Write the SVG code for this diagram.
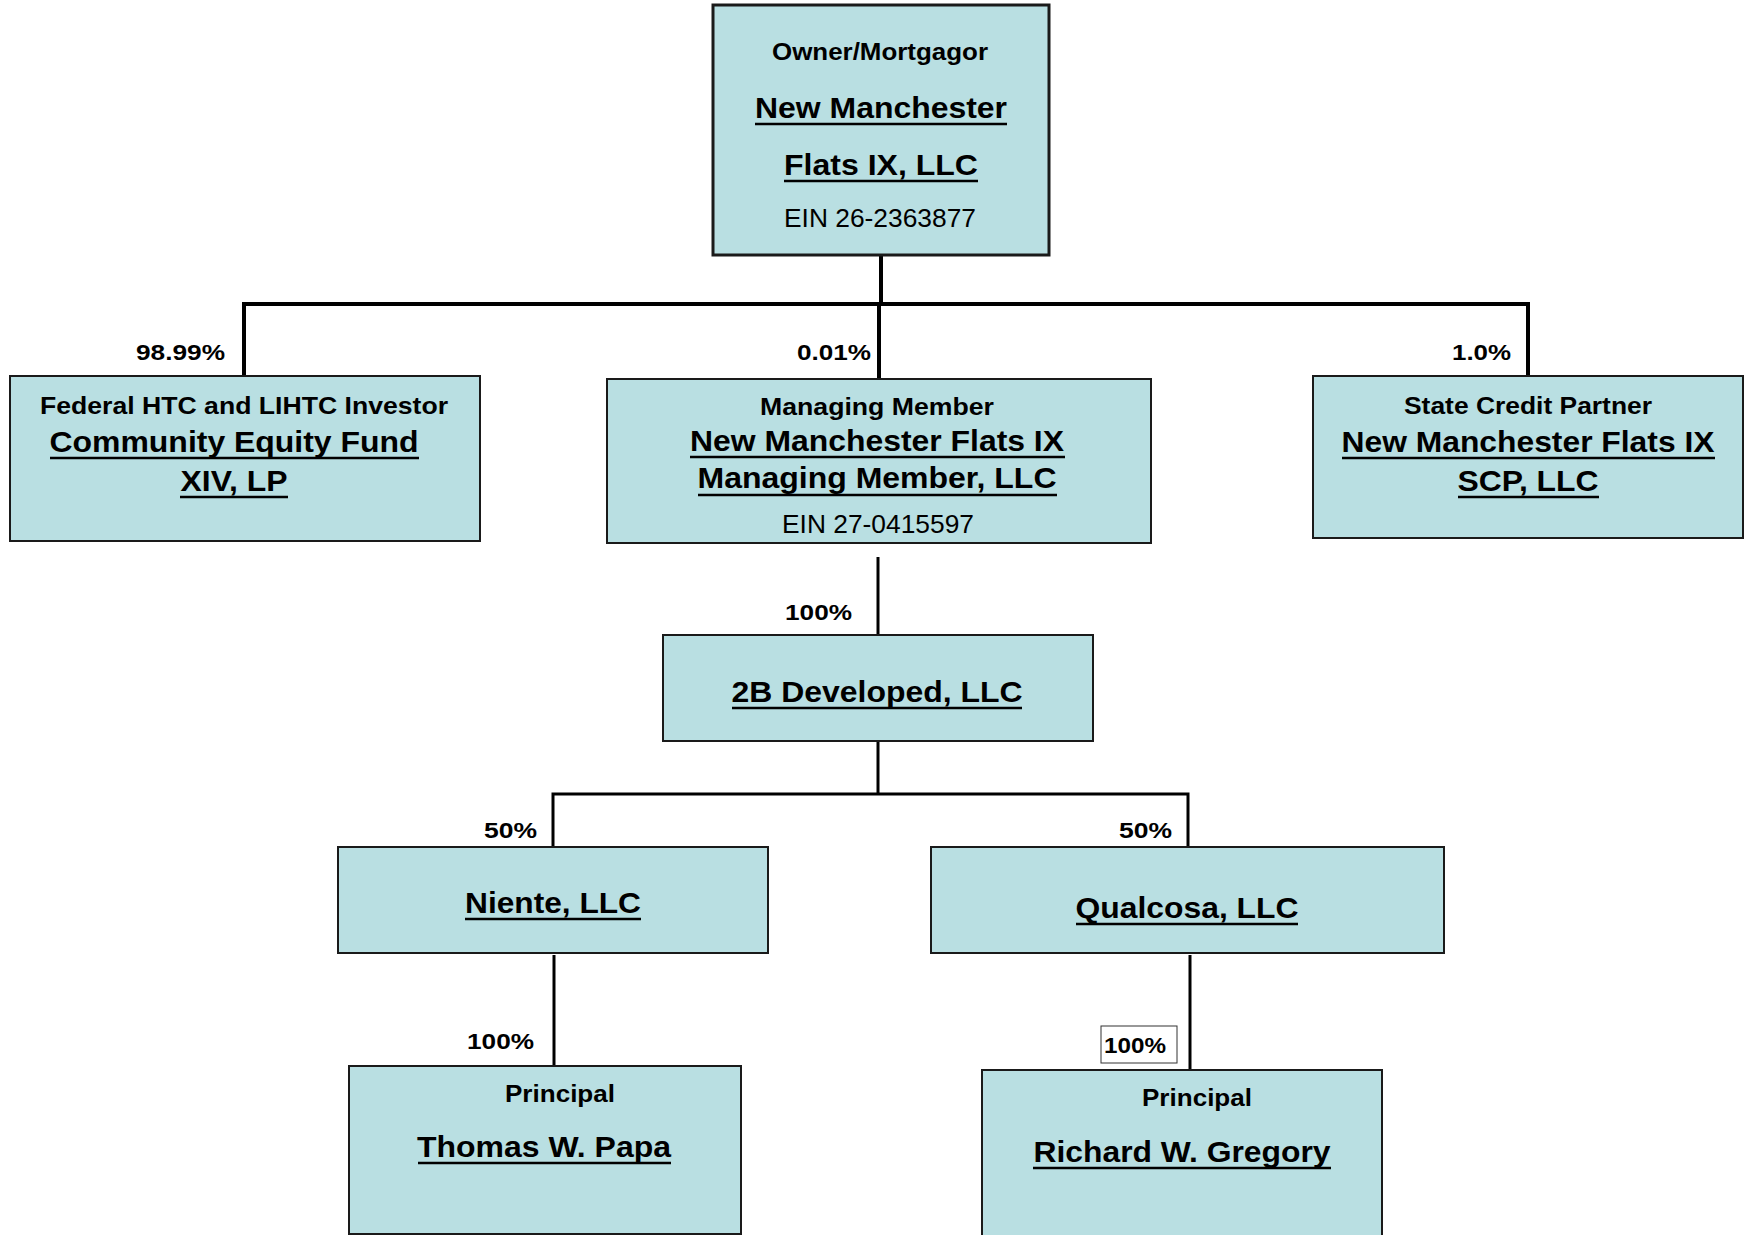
<svg xmlns="http://www.w3.org/2000/svg" width="1746" height="1235" viewBox="0 0 1746 1235">
<style>
  .box { fill: #B9DFE2; stroke: #1a1a1a; stroke-width: 2; }
  .t { font-family: "Liberation Sans", Arial, sans-serif; fill: #000; text-anchor: middle; }
  .lbl { font-size: 24px; font-weight: bold; }
  .name { font-size: 30px; font-weight: bold; }
  .ein { font-size: 26px; }
  .pct { font-family: "Liberation Sans", Arial, sans-serif; font-size: 22px; font-weight: bold; text-anchor: end; fill: #000; }
  .ul { stroke: #000; stroke-width: 2.5; }
  .conn { stroke: #000; stroke-width: 4; fill: none; }
  .conn2 { stroke: #000; stroke-width: 3; fill: none; }
</style>
<rect width="1746" height="1235" fill="#fff"/>

<g id="connectors">
  <line class="conn" x1="881" y1="255" x2="881" y2="304"/>
  <polyline class="conn" points="244,376 244,304 1528,304 1528,376"/>
  <line class="conn" x1="879" y1="304" x2="879" y2="379"/>
  <line class="conn2" x1="878" y1="557" x2="878" y2="635"/>
  <line class="conn2" x1="878" y1="741" x2="878" y2="794"/>
  <polyline class="conn2" points="553,847 553,794 1188,794 1188,847"/>
  <line class="conn2" x1="554" y1="955" x2="554" y2="1066"/>
  <line class="conn2" x1="1190" y1="955" x2="1190" y2="1070"/>
</g>

<g id="labels">
  <text class="pct" x="225" y="360" textLength="89" lengthAdjust="spacingAndGlyphs">98.99%</text>
  <text class="pct" x="871" y="360" textLength="74" lengthAdjust="spacingAndGlyphs">0.01%</text>
  <text class="pct" x="1511" y="360" textLength="59" lengthAdjust="spacingAndGlyphs">1.0%</text>
  <text class="pct" x="852" y="620" textLength="67" lengthAdjust="spacingAndGlyphs">100%</text>
  <text class="pct" x="537" y="838" textLength="53" lengthAdjust="spacingAndGlyphs">50%</text>
  <text class="pct" x="1172" y="838" textLength="53" lengthAdjust="spacingAndGlyphs">50%</text>
  <text class="pct" x="534" y="1049" textLength="67" lengthAdjust="spacingAndGlyphs">100%</text>
  <g id="pct-boxed">
    <rect x="1101" y="1026" width="76" height="37" fill="#fff" stroke="#333" stroke-width="1"/>
    <text class="pct" x="1166" y="1053" textLength="62" lengthAdjust="spacingAndGlyphs">100%</text>
  </g>
</g>

<g id="owner">
  <rect class="box" x="713" y="5" width="336" height="250" style="stroke-width:3"/>
  <text class="t lbl" x="880" y="60" textLength="216" lengthAdjust="spacingAndGlyphs">Owner/Mortgagor</text>
  <text class="t name" x="881" y="118" textLength="252" lengthAdjust="spacingAndGlyphs">New Manchester</text>
  <line class="ul" x1="755" y1="124" x2="1007" y2="124"/>
  <text class="t name" x="881" y="175" textLength="194" lengthAdjust="spacingAndGlyphs">Flats IX, LLC</text>
  <line class="ul" x1="784" y1="181" x2="978" y2="181"/>
  <text class="t ein" x="880" y="227" textLength="192" lengthAdjust="spacingAndGlyphs">EIN 26-2363877</text>
</g>

<g id="federal">
  <rect class="box" x="10" y="376" width="470" height="165"/>
  <text class="t lbl" x="244" y="414" textLength="408" lengthAdjust="spacingAndGlyphs">Federal HTC and LIHTC Investor</text>
  <text class="t name" x="234" y="452" textLength="369" lengthAdjust="spacingAndGlyphs">Community Equity Fund</text>
  <line class="ul" x1="50" y1="458" x2="419" y2="458"/>
  <text class="t name" x="234" y="491" textLength="107" lengthAdjust="spacingAndGlyphs">XIV, LP</text>
  <line class="ul" x1="180" y1="497" x2="288" y2="497"/>
</g>

<g id="managing">
  <rect class="box" x="607" y="379" width="544" height="164"/>
  <text class="t lbl" x="877" y="415" textLength="234" lengthAdjust="spacingAndGlyphs">Managing Member</text>
  <text class="t name" x="877" y="451" textLength="374" lengthAdjust="spacingAndGlyphs">New Manchester Flats IX</text>
  <line class="ul" x1="690" y1="457" x2="1065" y2="457"/>
  <text class="t name" x="877" y="488" textLength="359" lengthAdjust="spacingAndGlyphs">Managing Member, LLC</text>
  <line class="ul" x1="698" y1="495" x2="1057" y2="495"/>
  <text class="t ein" x="878" y="533" textLength="192" lengthAdjust="spacingAndGlyphs">EIN 27-0415597</text>
</g>

<g id="state">
  <rect class="box" x="1313" y="376" width="430" height="162"/>
  <text class="t lbl" x="1528" y="414" textLength="248" lengthAdjust="spacingAndGlyphs">State Credit Partner</text>
  <text class="t name" x="1528" y="452" textLength="373" lengthAdjust="spacingAndGlyphs">New Manchester Flats IX</text>
  <line class="ul" x1="1342" y1="458" x2="1715" y2="458"/>
  <text class="t name" x="1528" y="491" textLength="141" lengthAdjust="spacingAndGlyphs">SCP, LLC</text>
  <line class="ul" x1="1458" y1="497" x2="1599" y2="497"/>
</g>

<g id="developed">
  <rect class="box" x="663" y="635" width="430" height="106"/>
  <text class="t name" x="877" y="702" textLength="291" lengthAdjust="spacingAndGlyphs">2B Developed, LLC</text>
  <line class="ul" x1="732" y1="708" x2="1022" y2="708"/>
</g>

<g id="niente">
  <rect class="box" x="338" y="847" width="430" height="106"/>
  <text class="t name" x="553" y="913" textLength="176" lengthAdjust="spacingAndGlyphs">Niente, LLC</text>
  <line class="ul" x1="465" y1="919" x2="641" y2="919"/>
</g>

<g id="qualcosa">
  <rect class="box" x="931" y="847" width="513" height="106"/>
  <text class="t name" x="1187" y="918" textLength="223" lengthAdjust="spacingAndGlyphs">Qualcosa, LLC</text>
  <line class="ul" x1="1076" y1="924" x2="1298" y2="924"/>
</g>

<g id="papa">
  <rect class="box" x="349" y="1066" width="392" height="168"/>
  <text class="t lbl" x="560" y="1102" textLength="110" lengthAdjust="spacingAndGlyphs">Principal</text>
  <text class="t name" x="544" y="1157" textLength="254" lengthAdjust="spacingAndGlyphs">Thomas W. Papa</text>
  <line class="ul" x1="418" y1="1163" x2="671" y2="1163"/>
</g>

<g id="gregory">
  <rect class="box" x="982" y="1070" width="400" height="180"/>
  <text class="t lbl" x="1197" y="1106" textLength="110" lengthAdjust="spacingAndGlyphs">Principal</text>
  <text class="t name" x="1182" y="1162" textLength="297" lengthAdjust="spacingAndGlyphs">Richard W. Gregory</text>
  <line class="ul" x1="1033" y1="1168" x2="1331" y2="1168"/>
</g>
</svg>
